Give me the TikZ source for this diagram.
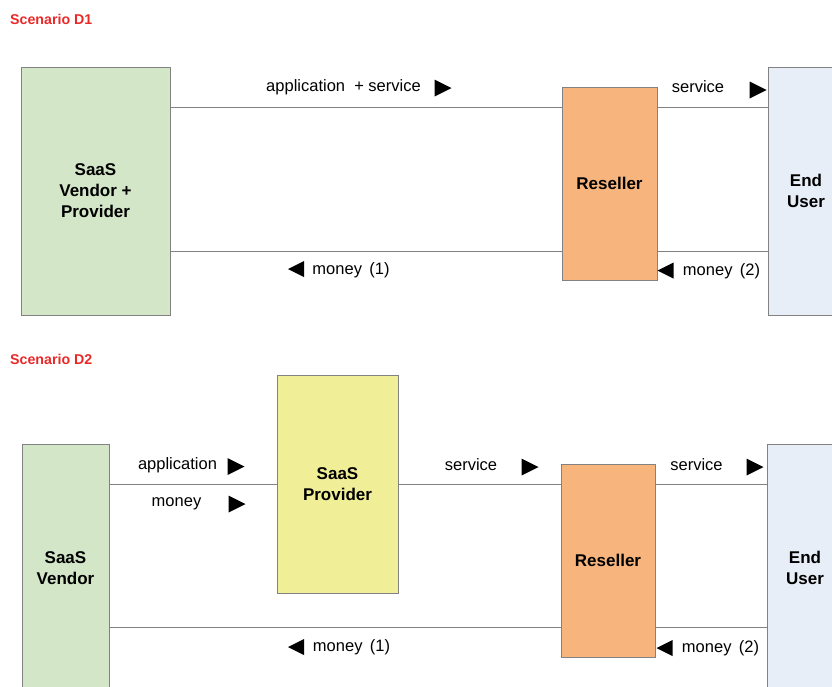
\documentclass[tikz,border=0pt]{standalone}
\usepackage{fontspec}
\setmainfont{Liberation Sans}

\definecolor{vendorfill}{RGB}{211,230,200}
\definecolor{resellerfill}{RGB}{247,180,124}
\definecolor{providerfill}{RGB}{240,238,150}
\definecolor{userfill}{RGB}{232,238,248}
\definecolor{edgegray}{RGB}{130,130,130}
\definecolor{titlered}{RGB}{235,40,40}

\tikzset{
  party/.style={draw=edgegray, line width=0.9pt, inner sep=0pt, align=center,
    font=\fontsize{17}{21}\selectfont\bfseries},
  flow/.style={draw=edgegray, line width=0.9pt},
  lbl/.style={inner sep=0pt, text height=12pt, text depth=3.5pt,
    font=\fontsize{16.5}{20}\selectfont},
  title/.style={inner sep=0pt, anchor=west, text=titlered,
    font=\fontsize{14.2}{16}\selectfont\bfseries},
  % solid black direction markers
  triR/.pic={\fill[black] (-8.5,-8.5) -- (8.5,0) -- (-8.5,8.5) -- cycle;},
  triL/.pic={\fill[black] (8,-8) -- (-8,0) -- (8,8) -- cycle;},
}

\begin{document}
\begin{tikzpicture}[x=1pt, y=-1pt]
\useasboundingbox (0,0) rectangle (832,686);

% ---------------- Scenario D1 ----------------
\node[title] (t1) at (10,19) {Scenario D1};

\node[party, fill=vendorfill, minimum width=149pt, minimum height=248pt]
  (v1) at (95.5,191) {SaaS\\Vendor +\\Provider};
\node[party, fill=resellerfill, minimum width=95pt, minimum height=193pt]
  (r1) at (609.5,183.5) {Reseller};
\node[party, fill=userfill, minimum width=76pt, minimum height=248pt]
  (u1) at (806,191) {End\\User};

\draw[flow] (v1.east |- 0,107) -- (r1.west |- 0,107);
\draw[flow] (r1.east |- 0,107) -- (u1.west |- 0,107);
\draw[flow] (v1.east |- 0,251) -- (r1.west |- 0,251);
\draw[flow] (r1.east |- 0,251) -- (u1.west |- 0,251);

\node[lbl] (l1) at (343.5,87) {application\ \ + service};
\pic (a1) at (443,88) {triR};
\pic (a2) at (296,269) {triL};
\node[lbl] (l2) at (351,270) {money \,(1)};
\node[lbl] (l3) at (698,88) {service};
\pic (a3) at (758,90) {triR};
\pic (a4) at (665.5,270.5) {triL};
\node[lbl] (l4) at (721.5,271) {money \,(2)};

% ---------------- Scenario D2 ----------------
\node[title] (t2) at (10,359) {Scenario D2};

\node[party, fill=vendorfill, minimum width=87pt, minimum height=248pt]
  (v2) at (65.5,568) {SaaS\\Vendor};
\node[party, fill=providerfill, minimum width=121pt, minimum height=218pt]
  (p2) at (337.5,484) {SaaS\\Provider};
\node[party, fill=resellerfill, minimum width=94pt, minimum height=193pt]
  (r2) at (608,560.5) {Reseller};
\node[party, fill=userfill, minimum width=76pt, minimum height=248pt]
  (u2) at (805,568) {End\\User};

\draw[flow] (v2.east |- 0,484) -- (p2.west |- 0,484);
\draw[flow] (p2.east |- 0,484) -- (r2.west |- 0,484);
\draw[flow] (r2.east |- 0,484) -- (u2.west |- 0,484);
\draw[flow] (v2.east |- 0,627) -- (r2.west |- 0,627);
\draw[flow] (r2.east |- 0,627) -- (u2.west |- 0,627);

\node[lbl] (m1) at (177.5,465) {application};
\pic (b1) at (236,466.5) {triR};
\node[lbl] (m2) at (176.5,502) {money};
\pic (b2) at (237,504) {triR};
\node[lbl] (m3) at (471,466) {service};
\pic (b3) at (530,467) {triR};
\node[lbl] (m4) at (696.5,466) {service};
\pic (b4) at (755,467) {triR};
\pic (b5) at (296,647) {triL};
\node[lbl] (m5) at (351.5,647) {money \,(1)};
\pic (b6) at (664.5,648) {triL};
\node[lbl] (m6) at (720.5,648) {money \,(2)};
\end{tikzpicture}
\end{document}
